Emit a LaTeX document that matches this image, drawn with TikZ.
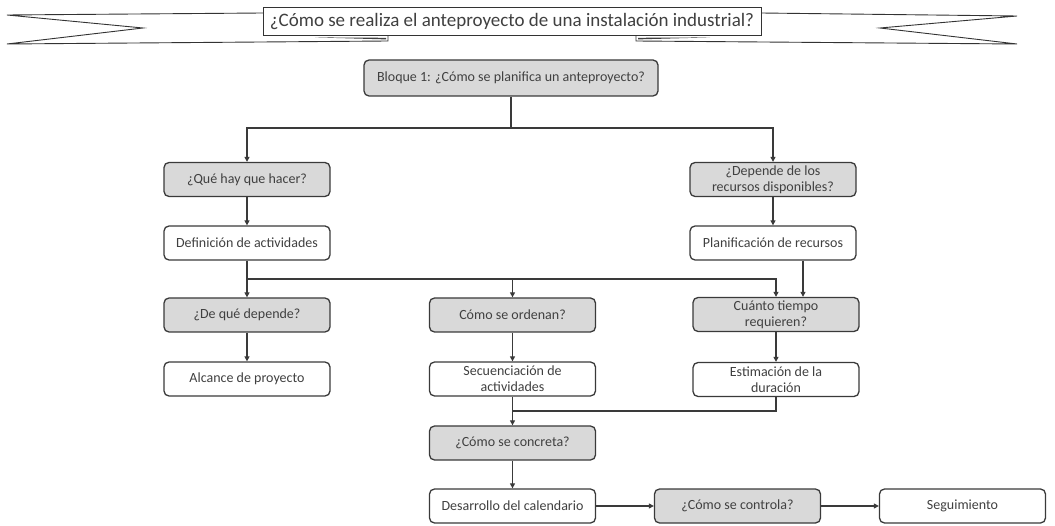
\documentclass[tikz,border=0pt]{standalone}
\usepackage{fontspec}
\setmainfont{Carlito}
\usetikzlibrary{arrows.meta,calc}
\definecolor{linec}{HTML}{3A3A3A}
\definecolor{textc}{HTML}{404040}
\definecolor{boxgray}{HTML}{D9D9D9}
\tikzset{
  box/.style={draw=linec, line width=1.3pt, rounded corners=5pt, fill=white,
    minimum width=166pt, minimum height=34pt, align=center, inner sep=2pt,
    text=textc, font=\fontsize{14}{16}\selectfont},
  gbox/.style={box, fill=boxgray},
  conn/.style={draw=linec, line width=1.2pt},
  arr/.style={conn, -{Triangle[length=5pt,width=5pt]}},
  ribbon/.style={draw=black!80, line width=0.9pt, line join=miter}
}
\begin{document}
\begin{tikzpicture}[x=1pt,y=-1pt]
\useasboundingbox (0,0) rectangle (1055,526);
% ---- banner ----
\draw[ribbon, fill=white] (263,13) -- (7,15) -- (143,28) -- (7,44) -- (388,41) -- (388,35) -- (263,35);
\draw[ribbon, fill=white] (761,13) -- (1017,16) -- (880,28) -- (1017,44) -- (636,41) -- (636,35) -- (761,35);
\fill[black!75] (315,37.4) -- (386,37.8) -- (386,39.4) -- cycle;
\fill[black!75] (710,37.4) -- (638,37.8) -- (638,39.4) -- cycle;
\node[draw=black!80, line width=0.9pt, fill=white, minimum width=498pt, minimum height=28pt,
  inner sep=0pt, text=textc, font=\fontsize{19}{22}\selectfont] (title) at (512,21)
  {¿Cómo se realiza el anteproyecto de una instalación industrial?};
% ---- nodes ----
\node[gbox, minimum width=294pt, minimum height=36pt] (bloque) at (511,78) {Bloque 1: ¿Cómo se planifica un anteproyecto?};
\node[gbox] (que) at (247,179.5) {¿Qué hay que hacer?};
\node[gbox] (dep) at (773,179.5) {¿Depende de los\\recursos disponibles?};
\node[box] (defin) at (247,243) {Definición de actividades};
\node[box] (planif) at (773,243) {Planificación de recursos};
\node[gbox] (dqd) at (247,315) {¿De qué depende?};
\node[gbox] (orden) at (512.5,315) {Cómo se ordenan?};
\node[gbox] (cuanto) at (776,314.5) {Cuánto tiempo\\requieren?};
\node[box] (alcance) at (247,379) {Alcance de proyecto};
\node[box] (secuen) at (512.5,379) {Secuenciación de\\actividades};
\node[box] (estim) at (776,379.5) {Estimación de la\\duración};
\node[gbox] (concreta) at (512.5,443) {¿Cómo se concreta?};
\node[box] (desarr) at (512.5,506) {Desarrollo del calendario};
\node[gbox] (control) at (737.5,506) {¿Cómo se controla?};
\node[box] (seguim) at (962.5,506) {Seguimiento};
% ---- connectors ----
\coordinate (b1) at (511,128);
\draw[conn] (bloque.south) -- (b1);
\draw[arr] (b1) -| (que.north);
\draw[arr] (b1) -| (dep.north);
\draw[arr] (que) -- (defin);
\draw[arr] (dep) -- (planif);
\coordinate (d1) at (247,279);
\draw[conn] (defin.south) -- (d1);
\draw[arr] (d1) -- (dqd.north);
\draw[arr] (d1) -| (orden.north);
\draw[arr] (d1) -| (cuanto.north);
\draw[arr] ([xshift=30pt]planif.south) -- ([xshift=30pt]planif.south |- cuanto.north);
\draw[arr] (dqd) -- (alcance);
\draw[arr] (orden) -- (secuen);
\draw[arr] (cuanto) -- (estim);
\coordinate (s1) at (512.5,411);
\draw[conn] (estim.south) |- (s1);
\draw[conn] (secuen.south) -- (s1);
\draw[arr] (s1) -- (concreta.north);
\draw[arr] (concreta) -- (desarr);
\draw[arr] (desarr) -- (control);
\draw[arr] (control) -- (seguim);
\end{tikzpicture}
\end{document}
